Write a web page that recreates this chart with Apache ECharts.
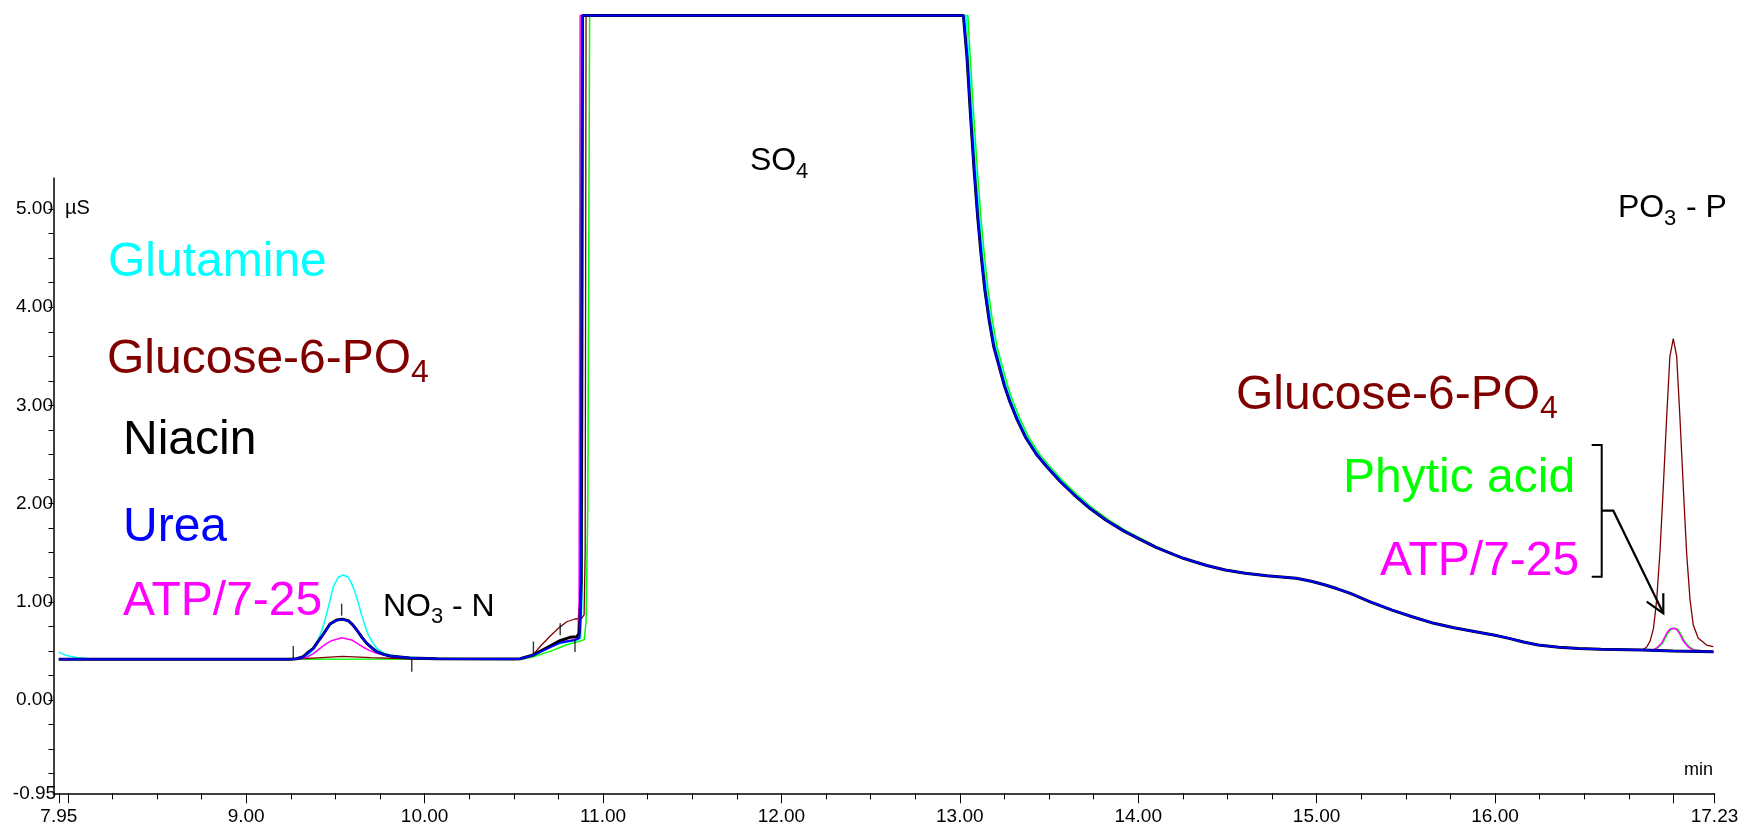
<!DOCTYPE html>
<html>
<head>
<meta charset="utf-8">
<script src="https://cdn.jsdelivr.net/npm/echarts@6/dist/echarts.min.js"></script>
<style>
  html, body { margin: 0; padding: 0; background: #fff; }
  #chart { width: 1754px; height: 829px; }
</style>
</head>
<body>
<div id="chart"></div>
<script>
// retention time (min) / conductivity (µS) pairs
const flatStart      = [[7.95, 0.415], [9.25, 0.415]]
const glutamineStart = [[7.95, 0.49], [7.97, 0.47], [8.0, 0.45], [8.05, 0.432], [8.12, 0.421], [8.25, 0.415], [9.25, 0.415]]

const glutaminePeak = [[9.3, 0.425], [9.339, 0.44], [9.37, 0.5], [9.395, 0.577], [9.42, 0.69], [9.442, 0.815], [9.465, 0.98],
  [9.488, 1.154], [9.516, 1.25], [9.544, 1.273], [9.572, 1.25], [9.59, 1.19], [9.61, 1.10], [9.63, 0.98], [9.647, 0.866],
  [9.665, 0.76], [9.685, 0.662], [9.71, 0.58], [9.732, 0.526], [9.76, 0.49], [9.788, 0.465], [9.862, 0.441], [9.993, 0.428],
  [10.217, 0.42], [10.5, 0.417]]
const niacinPeak = [[9.283, 0.42], [9.32, 0.441], [9.35, 0.49], [9.376, 0.526], [9.4, 0.59], [9.423, 0.645], [9.447, 0.71],
  [9.47, 0.774], [9.507, 0.815], [9.539, 0.822], [9.572, 0.808], [9.595, 0.77], [9.62, 0.713], [9.648, 0.64], [9.676, 0.577],
  [9.705, 0.53], [9.732, 0.492], [9.77, 0.465], [9.806, 0.448], [9.918, 0.428], [10.068, 0.42], [10.5, 0.417]]
const ureaPeak = [[9.283, 0.42], [9.32, 0.44], [9.35, 0.488], [9.376, 0.524], [9.4, 0.588], [9.423, 0.643], [9.447, 0.708],
  [9.47, 0.772], [9.507, 0.813], [9.539, 0.82], [9.572, 0.806], [9.595, 0.768], [9.62, 0.711], [9.648, 0.638], [9.676, 0.575],
  [9.705, 0.528], [9.732, 0.49], [9.77, 0.464], [9.806, 0.447], [9.918, 0.428], [10.068, 0.42], [10.5, 0.417]]
const atpPeak = [[9.3, 0.418], [9.339, 0.435], [9.375, 0.47], [9.414, 0.526], [9.445, 0.57], [9.479, 0.604], [9.535, 0.634],
  [9.592, 0.611], [9.625, 0.575], [9.657, 0.537], [9.695, 0.5], [9.732, 0.475], [9.78, 0.455], [9.825, 0.441], [9.956, 0.425],
  [10.2, 0.418], [10.5, 0.417]]
const glucoseBump = [[9.26, 0.415], [9.4, 0.43], [9.54, 0.445], [9.7, 0.432], [9.9, 0.42], [10.05, 0.416], [10.5, 0.417]]
const phyticStart = [[7.95, 0.415], [10.5, 0.417]]

const glutamineRise = [[10.535, 0.42], [10.609, 0.455], [10.703, 0.536], [10.759, 0.575], [10.843, 0.605], [10.875, 0.63], [10.882, 1.0], [10.887, 3.0], [10.89, 6.97]]
const glucoseRise   = [[10.535, 0.42], [10.609, 0.462], [10.65, 0.55], [10.703, 0.65], [10.75, 0.73], [10.797, 0.797], [10.843, 0.825], [10.88, 0.832], [10.894, 0.866], [10.9, 1.5], [10.905, 6.97]]
const niacinRise    = [[10.535, 0.42], [10.609, 0.458], [10.703, 0.55], [10.759, 0.604], [10.815, 0.638], [10.853, 0.645], [10.868, 0.68], [10.878, 1.2], [10.885, 6.97]]
const ureaRise      = [[10.535, 0.42], [10.609, 0.455], [10.703, 0.536], [10.759, 0.584], [10.843, 0.611], [10.868, 0.63], [10.876, 1.0], [10.883, 6.97]]
const atpRise       = [[10.535, 0.42], [10.609, 0.458], [10.703, 0.55], [10.759, 0.59], [10.84, 0.615], [10.858, 0.64], [10.866, 1.0], [10.872, 6.97]]
const phyticRise    = [[10.55, 0.418], [10.609, 0.44], [10.703, 0.495], [10.797, 0.563], [10.871, 0.6], [10.895, 0.615], [10.905, 0.8], [10.915, 2.0], [10.925, 6.97]]

// SO4 saturates the detector, then everything falls back together
const descent = [[13.02, 6.97], [13.04, 6.55], [13.06, 5.95], [13.08, 5.40], [13.10, 4.92], [13.12, 4.52], [13.14, 4.18],
  [13.165, 3.86], [13.19, 3.60], [13.22, 3.40], [13.25, 3.20], [13.28, 3.04], [13.32, 2.86], [13.37, 2.67], [13.43, 2.50],
  [13.49, 2.37], [13.56, 2.23], [13.64, 2.09], [13.73, 1.95], [13.82, 1.83], [13.92, 1.72], [14.01, 1.635], [14.10, 1.555], [14.20, 1.48]]
const glutamineDescent = [[13.035, 6.97], [13.05, 6.55], [13.07, 5.95], [13.09, 5.40], [13.11, 4.92], [13.13, 4.52], [13.15, 4.18],
  [13.175, 3.86], [13.20, 3.60], [13.23, 3.40], [13.26, 3.20], [13.29, 3.04], [13.33, 2.86], [13.38, 2.67], [13.44, 2.50],
  [13.50, 2.37], [13.57, 2.23], [13.65, 2.09], [13.74, 1.95], [13.83, 1.83], [13.93, 1.72], [14.02, 1.635], [14.105, 1.555], [14.20, 1.48]]
const phyticDescent = [[13.045, 6.97], [13.058, 6.55], [13.078, 5.95], [13.098, 5.40], [13.118, 4.92], [13.138, 4.52], [13.158, 4.18],
  [13.183, 3.86], [13.208, 3.60], [13.238, 3.40], [13.268, 3.20], [13.298, 3.04], [13.338, 2.86], [13.388, 2.67], [13.448, 2.50],
  [13.508, 2.37], [13.578, 2.23], [13.658, 2.09], [13.748, 1.95], [13.838, 1.83], [13.935, 1.72], [14.025, 1.635], [14.11, 1.555], [14.20, 1.48]]
const tail = [[14.253, 1.443], [14.32, 1.405], [14.384, 1.37], [14.488, 1.324], [14.6, 1.29], [14.722, 1.266], [14.885, 1.239],
  [14.97, 1.21], [15.049, 1.171], [15.12, 1.13], [15.189, 1.086], [15.3, 1.0], [15.423, 0.916], [15.54, 0.845], [15.657, 0.781],
  [15.77, 0.735], [15.891, 0.696], [16.0, 0.66], [16.078, 0.628], [16.16, 0.59], [16.241, 0.56], [16.358, 0.537],
  [16.47, 0.525], [16.592, 0.516], [16.826, 0.509]]
const flatEnd = [[17.0, 0.5], [17.224, 0.492]]

const glucosePoPeak = [[16.85, 0.54], [16.869, 0.6], [16.888, 0.73], [16.906, 1.02], [16.925, 1.53], [16.943, 2.17], [16.962, 2.885],
  [16.98, 3.5], [16.999, 3.68], [17.018, 3.5], [17.036, 2.885], [17.055, 2.17], [17.074, 1.49], [17.093, 1.02], [17.111, 0.764],
  [17.139, 0.628], [17.186, 0.56], [17.223, 0.543]]
const atpPoPeak = [[16.88, 0.506], [16.906, 0.53], [16.934, 0.58], [16.962, 0.68], [16.98, 0.72], [16.999, 0.73], [17.018, 0.72],
  [17.036, 0.67], [17.055, 0.6], [17.083, 0.54], [17.111, 0.51], [17.224, 0.492]]
const phyticPoPeak = [[16.886, 0.506], [16.912, 0.53], [16.94, 0.58], [16.968, 0.68], [16.986, 0.72], [17.005, 0.73], [17.024, 0.72],
  [17.042, 0.67], [17.061, 0.6], [17.089, 0.54], [17.117, 0.51], [17.224, 0.492]]

// integration delimiters drawn by the software
const peakMarks = [[9.264, 0.49], [9.535, 0.92], [9.928, 0.35], [10.61, 0.535], [10.76, 0.72], [10.843, 0.55]]

const xLabelValues = [7.95, 9, 10, 11, 12, 13, 14, 15, 16, 17.23]
const xMajorTicks  = [7.95, 8, 9, 10, 11, 12, 13, 14, 15, 16, 17, 17.23]
const yLabelValues = [-0.95, 0, 1, 2, 3, 4, 5]
const yAxisTop = 5.32

const join = (...parts) => [].concat(...parts)

const traces = [
  { name: 'Phytic acid',    color: '#00ff00', width: 1.5, data: join(phyticStart, phyticRise, phyticDescent, tail, phyticPoPeak) },
  { name: 'Glutamine',      color: '#00ffff', width: 1.5, data: join(glutamineStart, glutaminePeak, glutamineRise, glutamineDescent, tail, flatEnd) },
  { name: 'Glucose-6-PO4',  color: '#800000', width: 1.3, data: join(flatStart, glucoseBump, glucoseRise, descent, tail, glucosePoPeak) },
  { name: 'ATP/7-25',       color: '#ff00ff', width: 1.5, data: join(flatStart, atpPeak, atpRise, descent, tail, atpPoPeak) },
  { name: 'Niacin',         color: '#000000', width: 3,   data: join(flatStart, niacinPeak, niacinRise, descent, tail, flatEnd) },
  { name: 'Urea',           color: '#0000ff', width: 2,   data: join(flatStart, ureaPeak, ureaRise, descent, tail, flatEnd) },
]

const FONT = '"Liberation Sans", Arial, sans-serif'

function txt(text, x, y, size, color, align) {
  return {
    type: 'text', x, y, z: 100,
    style: {
      text, fill: color || '#000', fontSize: size, fontFamily: FONT,
      align: align || 'left', verticalAlign: 'middle',
      textAlign: align || 'left', textVerticalAlign: 'middle',
    },
  }
}

const minorTicks = []
for (let v = 8.25; v <= 17.001; v += 0.25) {
  if (Math.abs(v - Math.round(v)) > 0.01) minorTicks.push(+v.toFixed(2))
}
const yMinorTicks = []
for (let v = -0.75; v <= 5.001; v += 0.25) yMinorTicks.push(+v.toFixed(2))

const chart = echarts.init(document.getElementById('chart'), null, { renderer: 'canvas' })

const series = traces.map(t => ({
  type: 'line', name: t.name, data: t.data,
  symbol: 'none', smooth: false, animation: false,
  lineStyle: { color: t.color, width: t.width },
  itemStyle: { color: t.color },
}))

series[0].markLine = {
  silent: true, symbol: 'none', animation: false,
  label: { show: false },
  lineStyle: { color: '#000', width: 1.5, type: 'solid' },
  data: [[{ coord: [7.92, -0.95] }, { coord: [7.92, yAxisTop] }]],
}

series.push({
  type: 'scatter', name: 'marks', data: peakMarks,
  symbol: 'rect', symbolSize: [1.4, 12],
  itemStyle: { color: '#000' }, z: 10, animation: false,
})

chart.setOption({
  animation: false,
  backgroundColor: '#fff',
  grid: { left: 53.5, right: 39.5, top: 12.6, bottom: 35.7, outerBoundsMode: 'none', containLabel: false },
  xAxis: [
    {
      type: 'value', min: 7.92, max: 17.23,
      axisLine: { show: true, onZero: false, lineStyle: { color: '#000', width: 1.5 } },
      axisTick: { show: true, customValues: xMajorTicks, length: 10, lineStyle: { color: '#000', width: 1 } },
      axisLabel: {
        customValues: xLabelValues, margin: 14, color: '#000', fontSize: 19, fontFamily: FONT,
        formatter: v => v.toFixed(2),
      },
      splitLine: { show: false },
    },
    {
      type: 'value', min: 7.92, max: 17.23, position: 'bottom',
      axisLine: { show: false, onZero: false },
      axisTick: { show: true, customValues: minorTicks, length: 6, lineStyle: { color: '#000', width: 1 } },
      axisLabel: { show: false },
      splitLine: { show: false },
    },
  ],
  yAxis: {
    type: 'value', min: -0.95, max: 7.0,
    axisLine: { show: false, onZero: false },
    axisTick: { show: true, customValues: yMinorTicks, length: 5, lineStyle: { color: '#000', width: 1 } },
    axisLabel: {
      customValues: yLabelValues, margin: 19, align: 'center', color: '#000', fontSize: 19, fontFamily: FONT,
      padding: [6, 0, 0, 0],
      formatter: v => v.toFixed(2),
    },
    splitLine: { show: false },
  },
  series,
  graphic: [
    txt('Glutamine', 108, 262.5, 48, '#00ffff'),
    txt('Glucose-6-PO', 107, 360, 48, '#800000'),
    txt('4', 411, 373, 32, '#800000'),
    txt('Niacin', 123, 440.5, 48, '#000000'),
    txt('Urea', 123, 527.5, 48, '#0000ff'),
    txt('ATP/7-25', 123, 601.5, 48, '#ff00ff'),
    txt('NO', 383, 607, 32), txt('3', 431, 617, 22), txt(' - N', 443, 607, 32),
    txt('SO', 750, 161, 32), txt('4', 796, 172.4, 22),
    txt('PO', 1618, 208, 32), txt('3', 1664, 218.5, 22), txt(' - P', 1677, 208, 32),
    txt('Glucose-6-PO', 1236, 395.5, 48, '#800000'),
    txt('4', 1540, 409, 32, '#800000'),
    txt('Phytic acid', 1343, 479, 48, '#00ff00'),
    txt('ATP/7-25', 1380, 562, 48, '#ff00ff'),
    txt('µS', 65, 208.5, 20),
    txt('min', 1713, 769.8, 18, '#000', 'right'),
    {
      type: 'polyline', z: 100,
      shape: { points: [[1591.7, 445], [1601.7, 445], [1601.7, 576.7], [1591.7, 576.7]] },
      style: { stroke: '#000', lineWidth: 2, fill: null },
    },
    {
      type: 'polyline', z: 100,
      shape: { points: [[1601.7, 510.7], [1613.3, 510.7], [1663.3, 613.3]] },
      style: { stroke: '#000', lineWidth: 2.2, fill: null },
    },
    {
      type: 'polyline', z: 100,
      shape: { points: [[1646.7, 601.7], [1663.3, 613.3], [1663.3, 593.3]] },
      style: { stroke: '#000', lineWidth: 2.2, fill: null },
    },
  ],
})
</script>
</body>
</html>
